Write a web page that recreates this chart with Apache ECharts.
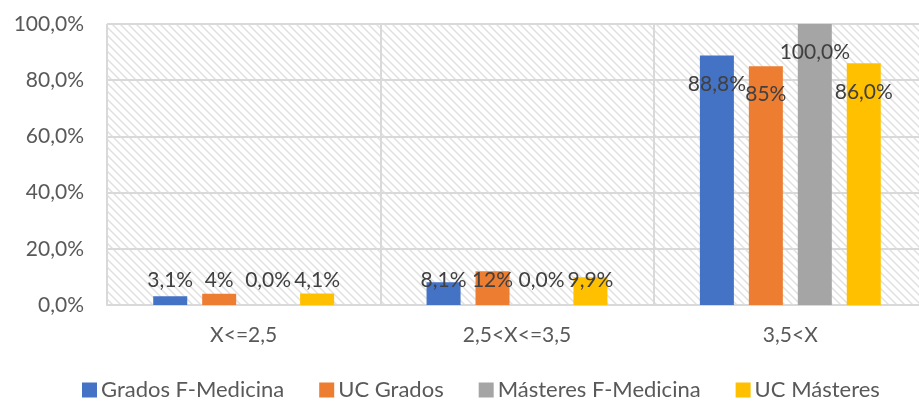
<!DOCTYPE html>
<html>
<head>
<meta charset="utf-8">
<script src="https://cdn.jsdelivr.net/npm/echarts@6/dist/echarts.min.js"></script>
<style>
  html, body { margin: 0; padding: 0; background: #fff; overflow: hidden; }
  #chart { width: 927px; height: 401px; }
</style>
</head>
<body>
<div id="chart"></div>
<script>
const categories = ['X<=2,5', '2,5<X<=3,5', '3,5<X']
const seriesNames = ['Grados F-Medicina', 'UC Grados', 'Másteres F-Medicina', 'UC Másteres']
const gradosFMedicina = [3.1, 8.1, 88.8]
const ucGrados = [4, 12, 85]
const masteresFMedicina = [0.0, 0.0, 100.0]
const ucMasteres = [4.1, 9.9, 86.0]
const labelDecimals = [1, 0, 1, 1]
const colors = ['#4472C4', '#ED7D31', '#A5A5A5', '#FFC000']

const FONT = 'Lato'
const TEXT = '#595959'

// hatched plot background (light downward diagonal)
const hatch = document.createElement('canvas')
hatch.width = 8
hatch.height = 8
const ctx = hatch.getContext('2d')
ctx.fillStyle = '#ffffff'
ctx.fillRect(0, 0, 8, 8)
ctx.strokeStyle = '#e0e0e0'
ctx.lineWidth = 1.5
ctx.beginPath()
ctx.moveTo(-2, -2); ctx.lineTo(10, 10)
ctx.moveTo(-2, 6); ctx.lineTo(2, 10)
ctx.moveTo(6, -2); ctx.lineTo(10, 2)
ctx.stroke()

const fmt = (v, d) => v.toFixed(d).replace('.', ',') + '%'

const allValues = [gradosFMedicina, ucGrados, masteresFMedicina, ucMasteres]

const series = allValues.map((vals, s) => ({
  name: seriesNames[s],
  type: 'bar',
  barWidth: 34,
  barGap: '44%',
  itemStyle: { color: colors[s] },
  label: {
    show: true,
    color: '#404040',
    fontFamily: FONT,
    fontSize: 21,
    formatter: p => fmt(p.value, labelDecimals[s])
  },
  data: vals.map((v, i) => ({
    value: v,
    label: i < 2 ? { position: 'insideBottom', offset: [0, -9] } : { position: 'insideTop', offset: [0, 13] }
  }))
}))

const chart = echarts.init(document.getElementById('chart'))
chart.setOption({
  animation: false,
  color: colors,
  grid: {
    left: 107, right: 0, top: 24, bottom: 96,
    show: true,
    borderWidth: 0,
    backgroundColor: { image: hatch, repeat: 'repeat' }
  },
  legend: {
    data: seriesNames,
    left: 82,
    top: 379,
    padding: 0,
    icon: 'rect',
    itemWidth: 15,
    itemHeight: 15,
    itemGap: 35,
    textStyle: { fontFamily: FONT, fontSize: 22, color: TEXT, padding: [0, 0, 0, -1] }
  },
  xAxis: {
    type: 'category',
    data: categories,
    axisTick: { show: false },
    axisLine: { lineStyle: { color: '#d9d9d9', width: 2 } },
    splitLine: { show: true, lineStyle: { color: '#d9d9d9', width: 2 } },
    axisLabel: { fontFamily: FONT, fontSize: 21, color: TEXT, margin: 20 }
  },
  yAxis: {
    type: 'value',
    min: 0,
    max: 100,
    interval: 20,
    axisLine: { show: false },
    axisTick: { show: false },
    splitLine: { lineStyle: { color: '#d9d9d9', width: 2 } },
    axisLabel: { fontFamily: FONT, fontSize: 21, color: TEXT, margin: 23, formatter: v => fmt(v, 1) }
  },
  series: series
})
</script>
</body>
</html>
